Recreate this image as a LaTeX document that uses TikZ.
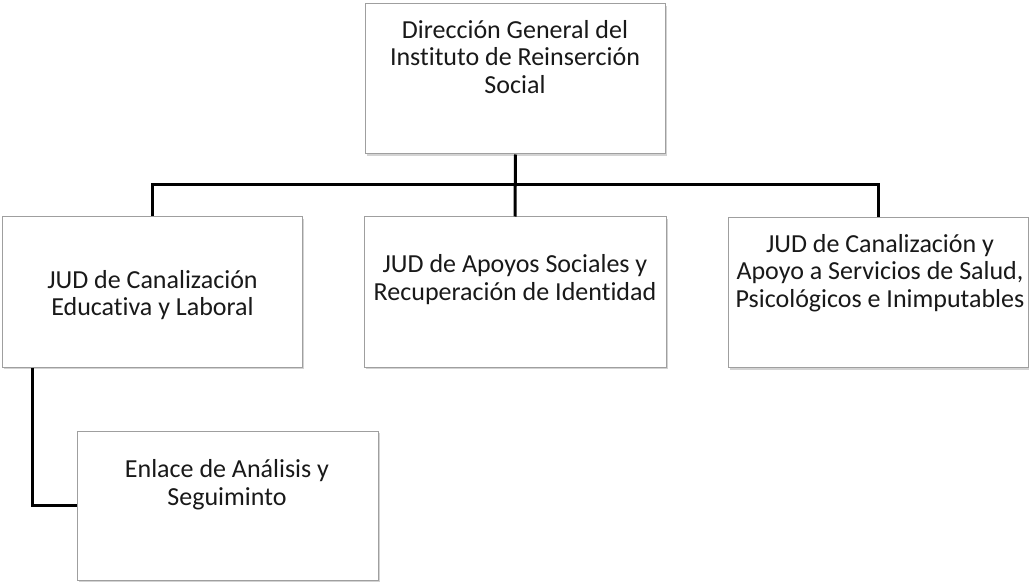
\documentclass[tikz,border=0pt]{standalone}
\usepackage{fontspec}
\setmainfont{Carlito}[Ligatures={NoCommon}]
\usetikzlibrary{shadows}
\begin{document}
\begin{tikzpicture}[x=1pt,y=-1pt,
  orgbox/.style={draw=gray!75, line width=1pt, fill=white, minimum width=300pt, minimum height=150pt, inner sep=0pt,
    drop shadow={opacity=0.35, shadow xshift=1.5pt, shadow yshift=-2pt}},
  label/.style={align=center, inner sep=0pt, font=\fontsize{26}{27.5}\selectfont, text=black!90},
  link/.style={line width=3pt, black}]
\useasboundingbox (0,0) rectangle (1029,583);
\node[orgbox] (top) at (515.5,79) {};
\node[orgbox] (left) at (152,292) {};
\node[orgbox, minimum width=302pt] (mid) at (515,292) {};
\node[orgbox] (right) at (878,292.5) {};
\node[orgbox, minimum width=301pt, minimum height=149pt] (bot) at (227.5,505.5) {};
\coordinate (bus) at (515,185);
\coordinate (drop) at (32,292);
\draw[link] (top.south) -- (mid.north);
\draw[link] (left.north) |- (bus) -| (right.north);
\draw[link] (left.south -| drop) |- (bot.west);
\node[label] (toptext) at (515,57) {Dirección General del\\Instituto de Reinserción\\Social};
\node[label] (lefttext) at (152.5,295) {JUD de Canalización\\Educativa y Laboral};
\node[label] (midtext) at (515,279.5) {JUD de Apoyos Sociales y\\Recuperación de Identidad};
\node[label] (righttext) at (880,273) {JUD de Canalización y\\Apoyo a Servicios de Salud,\\Psicológicos e Inimputables};
\node[label] (bottext) at (227,484.5) {Enlace de Análisis y\\Seguiminto};
\end{tikzpicture}
\end{document}
